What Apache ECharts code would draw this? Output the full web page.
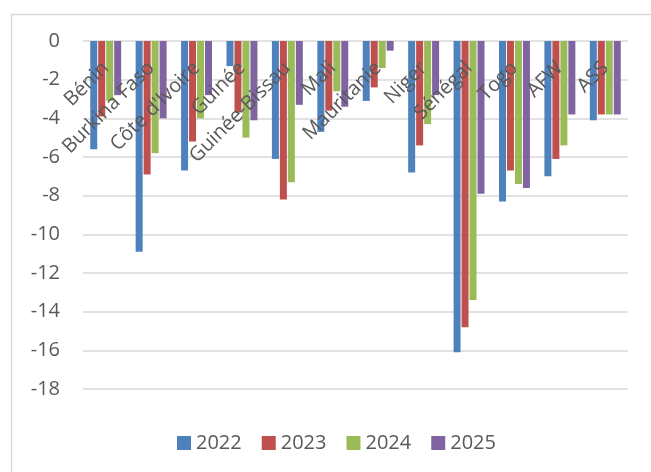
<!DOCTYPE html>
<html>
<head>
<meta charset="utf-8">
<script src="https://cdn.jsdelivr.net/npm/echarts@6/dist/echarts.min.js"></script>
<style>
  html, body { margin: 0; padding: 0; background: #fff; }
  #chart { width: 651px; height: 472px; }
</style>
</head>
<body>
<div id="chart"></div>
<script>
const categories = ['Bénin', 'Burkina Faso', "Côte d'Ivoire", 'Guinée', 'Guinée-Bissau', 'Mali', 'Mauritanie', 'Niger', 'Sénégal', 'Togo', 'AFW', 'ASS']
const years = ['2022', '2023', '2024', '2025']
const v2022 = [-5.6, -10.9, -6.7, -1.3, -6.1, -4.7, -3.1, -6.8, -16.1, -8.3, -7.0, -4.1]
const v2023 = [-3.9, -6.9, -5.2, -3.7, -8.2, -3.6, -2.4, -5.4, -14.8, -6.7, -6.1, -3.8]
const v2024 = [-3.1, -5.8, -4.0, -5.0, -7.3, -2.6, -1.4, -4.3, -13.4, -7.4, -5.4, -3.8]
const v2025 = [-2.8, -4.0, -2.8, -4.1, -3.3, -3.4, -0.5, -2.8, -7.9, -7.6, -3.8, -3.8]
const colors = ['#4F81BD', '#C0504D', '#9BBB59', '#8064A2']

const font = 'Open Sans'
const textColor = '#595959'

const chart = echarts.init(document.getElementById('chart'))

const seriesData = [v2022, v2023, v2024, v2025]

chart.setOption({
  animation: false,
  backgroundColor: '#fff',
  color: colors,
  graphic: [{
    type: 'rect', left: 9, top: 12, silent: true,
    shape: { width: 700, height: 520 },
    style: { fill: 'none', stroke: '#d9d9d9', lineWidth: 1.5 }
  }],
  grid: { left: 83, right: 23, top: 41, bottom: 83, containLabel: false, outerBoundsMode: 'none' },
  legend: {
    data: years,
    left: 172, top: 428,
    itemWidth: 14, itemHeight: 14, itemGap: 20,
    icon: 'rect',
    textStyle: { fontFamily: font, fontSize: 20, color: textColor }
  },
  xAxis: {
    type: 'category',
    data: categories,
    position: 'top',
    z: 5,
    axisLine: { show: false },
    axisTick: { show: false },
    axisLabel: {
      inside: true, rotate: 45, margin: 24, interval: 0,
      fontFamily: font, fontSize: 20, color: textColor
    }
  },
  yAxis: {
    type: 'value',
    min: -18, max: 0, interval: 2,
    axisLine: { show: false },
    axisTick: { show: false },
    axisLabel: { margin: 23, fontFamily: font, fontSize: 20, color: textColor },
    splitLine: { lineStyle: { color: '#d9d9d9', width: 1.5 } }
  },
  series: years.map((y, i) => ({
    name: y,
    type: 'bar',
    data: seriesData[i],
    barWidth: 7,
    barGap: '14%',
    itemStyle: { color: colors[i] }
  }))
})
</script>
</body>
</html>
